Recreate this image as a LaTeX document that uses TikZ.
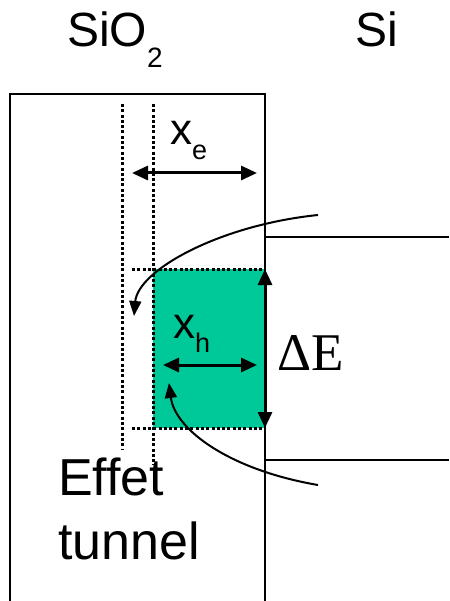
\documentclass[tikz,border=0pt]{standalone}
\usepackage{fontspec}
\setmainfont{Liberation Sans}
\newfontfamily\timesfont{Liberation Serif}
\usetikzlibrary{arrows.meta}

\begin{document}
\begin{tikzpicture}[
  x=1pt,y=-1pt,
  wall/.style={draw=black,line width=2.5pt},
  guide/.style={draw=black,line width=3pt,dash pattern=on 3pt off 2.3pt},
  span/.style={draw=black,line width=3pt,
               {Triangle[length=16pt,width=14pt]}-{Triangle[length=16pt,width=14pt]}},
  hop/.style={draw=black,line width=2pt,-{Triangle[length=15pt,width=12pt]}},
  txt/.style={inner sep=0pt,anchor=base west},
  big/.style={txt,font=\fontsize{48}{56}\selectfont},
  sym/.style={txt,font=\fontsize{44}{50}\selectfont},
]
\definecolor{tunnelGreen}{HTML}{00C999}
\useasboundingbox (0,0) rectangle (449,601);

% oxide / silicon geometry (pixel grid of the sketch)
\coordinate (oxBL) at (10,601);
\coordinate (oxTL) at (10,94);
\coordinate (oxTR) at (265,94);
\coordinate (oxBR) at (265,601);
\coordinate (cbL) at (265,237);
\coordinate (cbR) at (449,237);
\coordinate (vbL) at (265,460);
\coordinate (vbR) at (449,460);

\coordinate (gTop) at (265,269);
\coordinate (gBot) at (265,428);
\coordinate (gCorner) at (153,269);
\coordinate (gTopL) at (132,269);
\coordinate (gBotL) at (132,428);

\foreach \x/\name/\ylow in {122/eLine/450,153/hLine/465}{
  \coordinate (\name Top) at (\x,104);
  \coordinate (\name Bot) at (\x,\ylow);
}

\coordinate (xeL) at (132,173);
\coordinate (xeR) at (257,173);
\coordinate (xhL) at (163,365);
\coordinate (xhR) at (257,365);

\coordinate (upStart) at (318,215);
\coordinate (upEnd) at (134,316);
\coordinate (loStart) at (318,485);
\coordinate (loEnd) at (169,383);

\fill[tunnelGreen] (gCorner) rectangle (gBot);

\draw[guide] (eLineTop)--(eLineBot) (hLineTop)--(hLineBot)
  (gTopL)--(gTop) (gBotL)--(gBot);

\draw[wall] (oxBL)--(oxTL)--(oxTR)--(oxBR);
\draw[wall] (cbL)--(cbR) (vbL)--(vbR);

\draw[span] (xeL)--(xeR);
\draw[span] (xhL)--(xhR);
\draw[span] (gTop)--(gBot);

% tunnelling paths
\draw[hop] (upStart) .. controls (220,225) and (138,270) .. (upEnd);
\draw[hop] (loStart) .. controls (230,470) and (175,430) .. (loEnd);

\node[big] (oxide) at (67,47) {SiO\raisebox{-21pt}{\fontsize{28}{28}\selectfont 2}};
\node[big] (silicon) at (355,47) {Si};
\node[sym] (xe) at (170,145) {x\raisebox{-15pt}{\fontsize{27}{27}\selectfont e}};
\node[sym] (xh) at (173,338) {x\raisebox{-14pt}{\fontsize{27}{27}\selectfont h}};
\node[txt,font=\timesfont\fontsize{53}{60}\selectfont] (gap) at (277,370) {ΔE};
\node[txt,font=\fontsize{52}{64}\selectfont,align=left,anchor=north west]
  (tunnel) at (58,458) {Effet\\tunnel};
\end{tikzpicture}
\end{document}
